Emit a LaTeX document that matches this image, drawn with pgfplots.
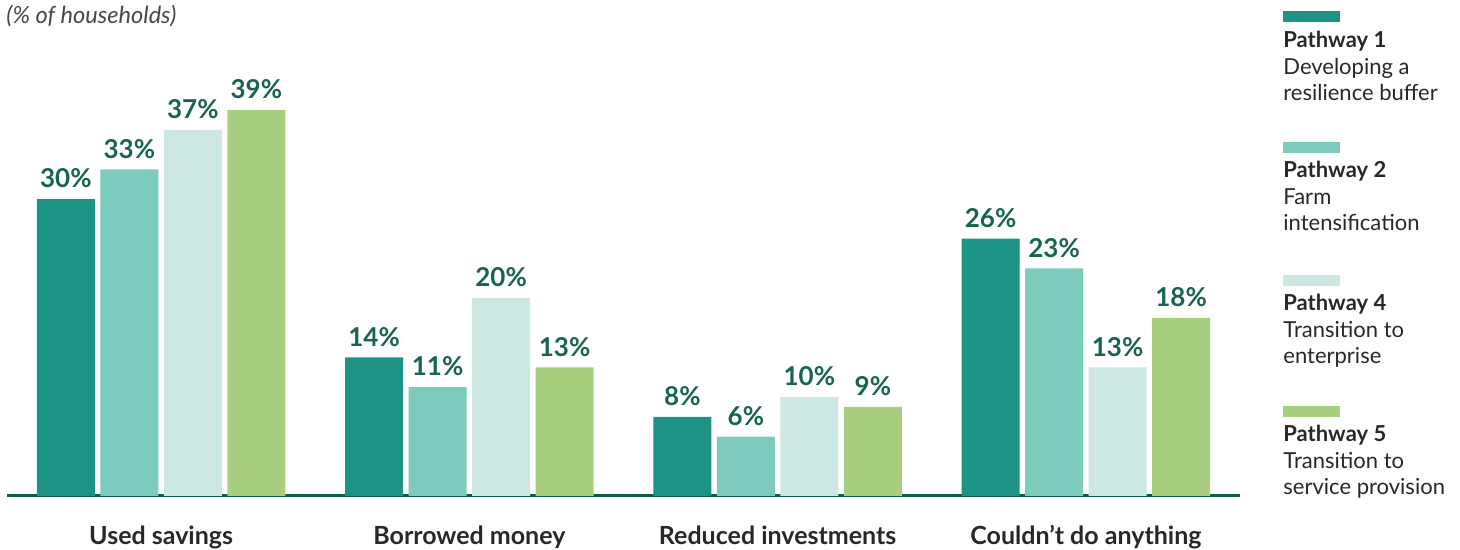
\documentclass[border=0pt]{standalone}
\usepackage{pgfplots}
\pgfplotsset{compat=1.18}
\usepackage{fontspec}
\setmainfont{Lato}
\definecolor{cA}{HTML}{1D9385}
\definecolor{cB}{HTML}{7DCBBD}
\definecolor{cC}{HTML}{CDE7E2}
\definecolor{cD}{HTML}{A8CF80}
\definecolor{lab}{HTML}{17644F}
\definecolor{axl}{HTML}{0E5B47}
\definecolor{txt}{HTML}{2A2728}
\begin{document}
\begin{tikzpicture}
\path[use as bounding box] (0,0) rectangle (730pt,275pt);
\begin{axis}[
  at={(3.5pt,27pt)}, anchor=south west,
  scale only axis, width=616.5pt, height=237.5pt,
  xmin=-0.5, xmax=3.5, ymin=0, ymax=48,
  ybar=2.75pt, bar width=29pt,
  axis x line=bottom, axis y line=none,
  axis line style={-, draw=axl, line width=1.5pt},
  xtick={0,1,2,3},
  xticklabels={Used savings, Borrowed money, Reduced investments, Couldn’t do anything},
  xtick style={draw=none},
  xticklabel style={font=\fontsize{12.5pt}{15pt}\selectfont\bfseries, text=txt, anchor=base, yshift=-22pt},
  /pgf/number format/assume math mode=true,
  nodes near coords={\pgfmathprintnumber{\pgfplotspointmeta}\%},
  nodes near coords style={font=\fontsize{13pt}{15pt}\selectfont\bfseries, text=lab, anchor=south, yshift=2pt},
  clip=false,
]
\addplot[fill=cA, draw=none] coordinates {(0,30) (1,14) (2,8) (3,26)};
\addplot[fill=cB, draw=none] coordinates {(0,33) (1,11) (2,6) (3,23)};
\addplot[fill=cC, draw=none] coordinates {(0,37) (1,20) (2,10) (3,13)};
\addplot[fill=cD, draw=none] coordinates {(0,39) (1,13) (2,9) (3,18)};
\end{axis}
\node[anchor=base west, font=\fontsize{11.8pt}{14pt}\selectfont\itshape, text=txt!85, inner sep=0] at (3pt,263pt) {(\% of households)};
\begin{scope}[every node/.style={anchor=base west, inner sep=0, text=txt, font=\fontsize{11pt}{13pt}\selectfont}]
\fill[cA] (641.5pt,264pt) rectangle (670pt,269.5pt);
\node[font=\fontsize{11pt}{13pt}\selectfont\bfseries] at (641.5pt,251pt) {Pathway 1};
\node at (641.5pt,237.75pt) {Developing a};
\node at (641.5pt,224.5pt) {resilience buffer};
\fill[cB] (641.5pt,198.5pt) rectangle (670pt,204pt);
\node[font=\fontsize{11pt}{13pt}\selectfont\bfseries] at (641.5pt,186pt) {Pathway 2};
\node at (641.5pt,172.75pt) {Farm};
\node at (641.5pt,159.5pt) {intensification};
\fill[cC] (641.5pt,132pt) rectangle (670pt,137.5pt);
\node[font=\fontsize{11pt}{13pt}\selectfont\bfseries] at (641.5pt,119.5pt) {Pathway 4};
\node at (641.5pt,106.25pt) {Transition to};
\node at (641.5pt,93pt) {enterprise};
\fill[cD] (641.5pt,66.5pt) rectangle (670pt,72pt);
\node[font=\fontsize{11pt}{13pt}\selectfont\bfseries] at (641.5pt,54pt) {Pathway 5};
\node at (641.5pt,40.75pt) {Transition to};
\node at (641.5pt,27.5pt) {service provision};
\end{scope}
\end{tikzpicture}
\end{document}
